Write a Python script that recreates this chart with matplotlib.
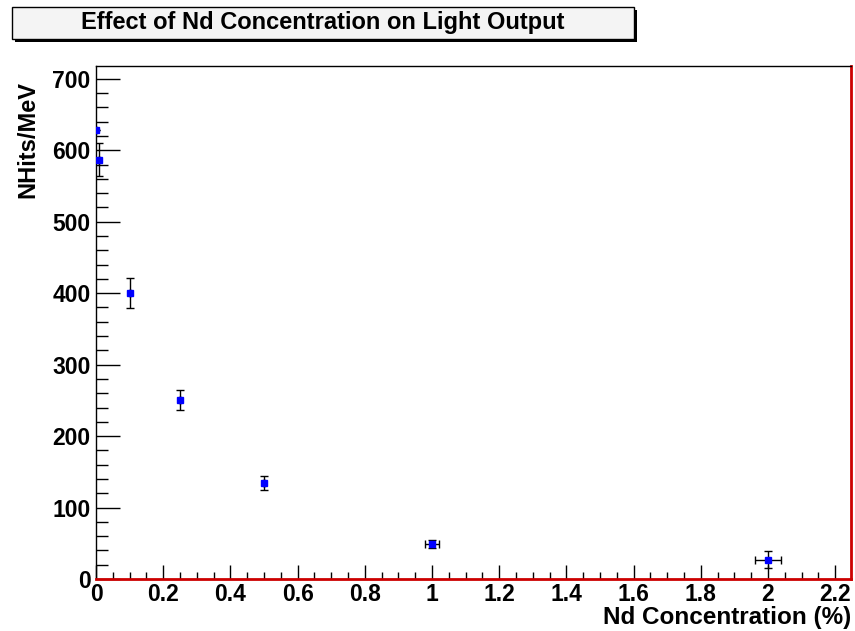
import matplotlib
matplotlib.use("Agg")
import matplotlib.pyplot as plt
from matplotlib.patches import Rectangle
from matplotlib.ticker import MultipleLocator

plt.rcParams['font.family'] = ['Liberation Sans', 'DejaVu Sans']
plt.rcParams['font.weight'] = 'bold'

# data
nd_conc = [0.0, 0.01, 0.1, 0.25, 0.5, 1.0, 2.0]
nd_conc_err = [0.0, 0.0, 0.0, 0.0, 0.0, 0.02, 0.04]
nhits = [628, 587, 400, 251, 134, 49, 27]
nhits_err = [0, 23, 21, 14, 10, 5, 12]

W, H = 855, 631
fig = plt.figure(figsize=(W / 100, H / 100), dpi=100)
fig.patch.set_facecolor('white')

# axes frame in pixel coords
x0, x1, y0, y1 = 96, 851, 66, 579
ax = fig.add_axes((x0 / W, 1 - y1 / H, (x1 - x0) / W, (y1 - y0) / H))

ax.errorbar(nd_conc, nhits, xerr=nd_conc_err, yerr=nhits_err, fmt='s',
            color='blue', ms=5, mec='blue', ecolor='black', elinewidth=1,
            capsize=3, capthick=1, zorder=3)

ax.set_xlim(0, 2.247)
ax.set_ylim(0, 718)

ax.xaxis.set_major_locator(MultipleLocator(0.2))
ax.xaxis.set_minor_locator(MultipleLocator(0.05))
ax.yaxis.set_major_locator(MultipleLocator(100))
ax.yaxis.set_minor_locator(MultipleLocator(20))
ax.xaxis.set_major_formatter(plt.FuncFormatter(lambda v, p: f"{v:g}"))

ax.tick_params(axis='both', which='both', direction='in', top=False, right=False,
               labelsize=16.5, width=1, color='black')
ax.tick_params(axis='y', which='major', length=17, pad=4)
ax.tick_params(axis='y', which='minor', length=8.5)
ax.tick_params(axis='x', which='major', length=10, pad=3)
ax.tick_params(axis='x', which='minor', length=5)
for lab in ax.get_xticklabels() + ax.get_yticklabels():
    lab.set_fontweight('bold')

for s in ('top', 'left'):
    ax.spines[s].set_color('black')
    ax.spines[s].set_linewidth(1)
for s in ('bottom', 'right'):
    ax.spines[s].set_color('#cc0000')
    ax.spines[s].set_linewidth(2)

ax.set_xlabel('Nd Concentration (%)', fontsize=17.5, fontweight='bold', loc='right', labelpad=0)
ax.set_ylabel('NHits/MeV', fontsize=17, fontweight='bold', labelpad=8)
ax.yaxis.set_label_coords(-0.075, 0.97, transform=ax.transAxes)
ax.yaxis.label.set_va('bottom')
ax.yaxis.label.set_ha('right')

# ROOT-style title box with shadow
bx0, bx1, by0, by1 = 12, 634, 7, 39
fig.patches.append(Rectangle(((bx0 + 3) / W, 1 - (by1 + 3) / H), (bx1 - bx0) / W,
                             (by1 - by0) / H, transform=fig.transFigure,
                             facecolor='black', edgecolor='none', zorder=1))
fig.patches.append(Rectangle((bx0 / W, 1 - by1 / H), (bx1 - bx0) / W,
                             (by1 - by0) / H, transform=fig.transFigure,
                             facecolor='#f4f4f4', edgecolor='black', lw=1, zorder=2))
fig.text((bx0 + bx1) / 2 / W, 1 - (by0 + by1) / 2 / H,
         'Effect of Nd Concentration on Light Output', ha='center', va='center',
         fontsize=17, fontweight='bold', zorder=3)

fig.savefig('out.png', dpi=100)
